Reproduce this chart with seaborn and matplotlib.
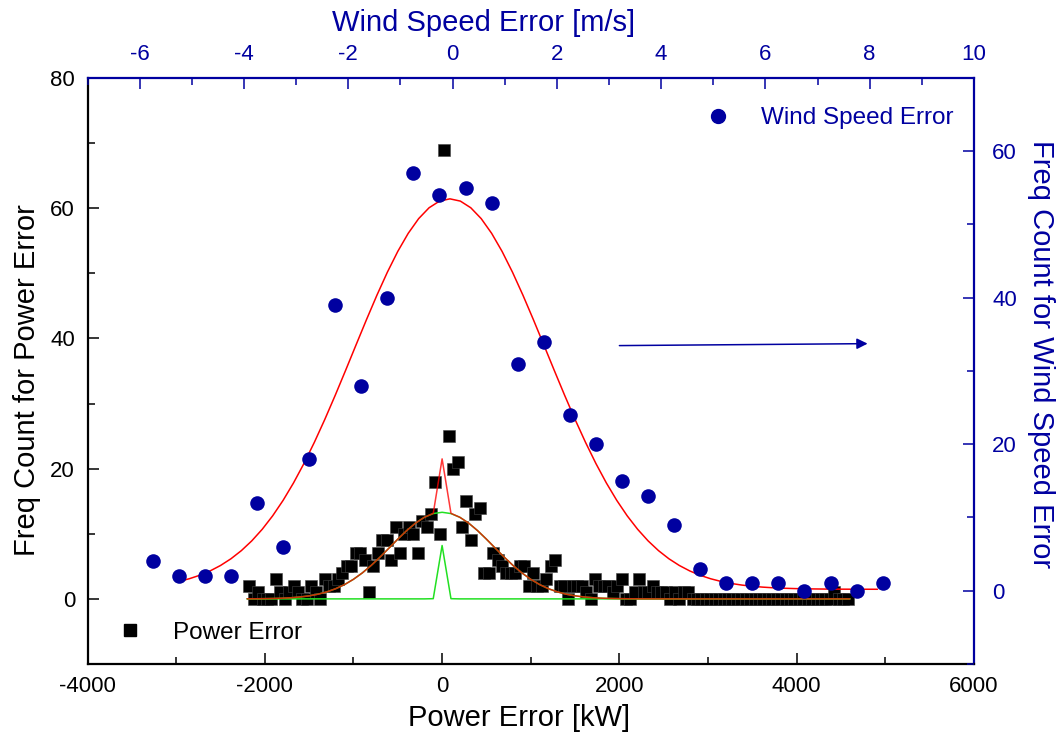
import numpy as np
import pandas as pd
import matplotlib
matplotlib.use("Agg")
import matplotlib.pyplot as plt
from matplotlib.ticker import MultipleLocator
from matplotlib.lines import Line2D
import seaborn as sns

sns.set_style("white")
plt.rcParams['font.family'] = ['Liberation Sans', 'DejaVu Sans']
plt.rcParams['axes.unicode_minus'] = False
plt.rcParams['text.color'] = 'black'
plt.rcParams['axes.labelcolor'] = 'black'

# ---------------- data ----------------
# Power error histogram (bottom x axis [kW], left y axis)
power_bins = [
    -2175, -2125, -2075, -2025, -1975, -1925, -1875, -1825, -1775, -1725,
    -1675, -1625, -1575, -1525, -1475, -1425, -1375, -1325, -1275, -1225,
    -1175, -1125, -1075, -1025, -975, -925, -875, -825, -775, -725,
    -675, -625, -575, -525, -475, -425, -375, -325, -275, -225,
    -175, -125, -75, -25, 25, 75, 125, 175, 225, 275,
    325, 375, 425, 475, 525, 575, 625, 675, 725, 775,
    825, 875, 925, 975, 1025, 1075, 1125, 1175, 1225, 1275,
    1325, 1375, 1425, 1475, 1525, 1575, 1625, 1675, 1725, 1775,
    1825, 1875, 1925, 1975, 2025, 2075, 2125, 2175, 2225, 2275,
    2325, 2375, 2425, 2475, 2525, 2575, 2625, 2675, 2725, 2775,
    2825, 2875, 2925, 2975, 3025, 3075, 3125, 3175, 3225, 3275,
    3325, 3375, 3425, 3475, 3525, 3575, 3625, 3675, 3725, 3775,
    3825, 3875, 3925, 3975, 4025, 4075, 4125, 4175, 4225, 4275,
    4325, 4375, 4425, 4475, 4525, 4575,
]
power_counts = [
    2, 0, 1, 0, 0, 0, 3, 1, 0, 1,
    2, 1, 0, 0, 2, 1, 0, 3, 2, 2,
    3, 4, 5, 5, 7, 7, 6, 1, 5, 7,
    9, 9, 6, 11, 7, 10, 11, 10, 7, 12,
    11, 13, 18, 10, 69, 25, 20, 21, 11, 15,
    9, 13, 14, 4, 4, 7, 6, 5, 4, 4,
    4, 5, 5, 2, 4, 2, 2, 3, 5, 6,
    2, 2, 0, 2, 2, 2, 1, 0, 3, 2,
    2, 2, 1, 2, 3, 0, 0, 1, 3, 1,
    1, 2, 1, 1, 1, 0, 1, 0, 1, 1,
    0, 0, 0, 0, 0, 0, 0, 0, 0, 0,
    0, 0, 0, 0, 0, 0, 0, 0, 0, 0,
    0, 0, 0, 0, 0, 0, 0, 0, 0, 0,
    0, 0, 1, 0, 0, 0,
]

# Wind speed error histogram (top x axis [m/s], right y axis)
wind_bins = [-5.75, -5.25, -4.75, -4.25, -3.75, -3.25, -2.75, -2.25, -1.75, -1.25,
             -0.75, -0.25, 0.25, 0.75, 1.25, 1.75, 2.25, 2.75, 3.25, 3.75,
             4.25, 4.75, 5.25, 5.75, 6.25, 6.75, 7.25, 7.75, 8.25]
wind_counts = [4, 2, 2, 2, 12, 6, 18, 39, 28, 40,
               57, 54, 55, 53, 31, 34, 24, 20, 15, 13,
               9, 3, 1, 1, 1, 0, 1, 0, 1]

# Gaussian fit parameters
wind_fit = dict(y0=0.2, A=53.3, xc=-0.05, w=1.86, x_from=-5.25, x_to=8.25)
power_broad = dict(A=13.3, xc=0.0, w=580.0)
power_narrow = dict(A=8.2, xc=0.0, w=30.0)
power_fit_range = (-2200, 4600, 100)

NAVY = "#0000A0"
GREEN = "#22E022"


def gauss(x, A, xc, w, y0=0.0):
    return y0 + A * np.exp(-((x - xc) ** 2) / (2 * w ** 2))


# ---------------- figure ----------------
fig = plt.figure(figsize=(10.56, 7.35), dpi=100)
rect = [0.0829, 0.0966, 0.8394, 0.7973]
ax = fig.add_axes(rect)
ax2 = fig.add_axes(rect, frameon=False)

df_p = pd.DataFrame({"x": power_bins, "y": power_counts})
df_w = pd.DataFrame({"x": wind_bins, "y": wind_counts})

# power fit curves
xf = np.arange(power_fit_range[0], power_fit_range[1] + 1, power_fit_range[2])
broad = gauss(xf, power_broad["A"], power_broad["xc"], power_broad["w"])
narrow = gauss(xf, power_narrow["A"], power_narrow["xc"], power_narrow["w"])
fit_df = pd.DataFrame({"x": xf, "broad": broad, "narrow": narrow, "cum": broad + narrow})

sns.scatterplot(data=df_p, x="x", y="y", ax=ax, marker="s", s=80, color="black",
                edgecolor="#444444", linewidth=0.4, zorder=2, legend=False)
sns.lineplot(data=fit_df, x="x", y="narrow", ax=ax, color=GREEN, lw=1.1, zorder=3)
sns.lineplot(data=fit_df, x="x", y="broad", ax=ax, color=GREEN, lw=1.1, zorder=3)
sns.lineplot(data=fit_df, x="x", y="cum", ax=ax, color="red", lw=1.1, alpha=0.78, zorder=4)

# wind
xw = np.arange(wind_fit["x_from"], wind_fit["x_to"] + 1e-9, 0.2)
wfit_df = pd.DataFrame({"x": xw, "y": gauss(xw, wind_fit["A"], wind_fit["xc"], wind_fit["w"], wind_fit["y0"])})
sns.lineplot(data=wfit_df, x="x", y="y", ax=ax2, color="red", lw=1.1, zorder=3)
sns.scatterplot(data=df_w, x="x", y="y", ax=ax2, marker="o", s=110, color=NAVY,
                edgecolor=NAVY, linewidth=0, zorder=4, legend=False)

# limits
ax.set_xlim(-4000, 6000)
ax.set_ylim(-10, 80)
ax2.set_xlim(-7, 10)
ax2.set_ylim(-10, 70)

# ticks
ax.xaxis.set_major_locator(MultipleLocator(2000))
ax.xaxis.set_minor_locator(MultipleLocator(1000))
ax.yaxis.set_major_locator(MultipleLocator(20))
ax.yaxis.set_minor_locator(MultipleLocator(10))
ax2.xaxis.set_major_locator(MultipleLocator(2))
ax2.xaxis.set_minor_locator(MultipleLocator(1))
ax2.yaxis.set_major_locator(MultipleLocator(20))
ax2.yaxis.set_minor_locator(MultipleLocator(10))

ax.tick_params(which="both", direction="in", top=False, right=False,
               bottom=True, left=True, color="black", labelcolor="black", width=1.1)
ax.tick_params(which="major", length=8, labelsize=16, pad=9)
ax.tick_params(which="minor", length=5)

ax2.xaxis.tick_top()
ax2.yaxis.tick_right()
ax2.tick_params(which="both", direction="in", top=True, right=True, bottom=False, left=False,
                labeltop=True, labelright=True, labelbottom=False, labelleft=False,
                color=NAVY, labelcolor=NAVY, width=1.1)
ax2.tick_params(which="major", length=8, labelsize=16, pad=9)
ax2.tick_params(axis="y", which="major", pad=13)
ax2.tick_params(which="minor", length=5)

for side in ["left", "bottom"]:
    ax.spines[side].set_color("black")
    ax.spines[side].set_linewidth(1.6)
for side in ["top", "right"]:
    ax.spines[side].set_color(NAVY)
    ax.spines[side].set_linewidth(1.6)

# labels
ax.set_xlabel("Power Error [kW]", fontsize=21, color="black")
ax.set_ylabel("Freq Count for Power Error", fontsize=21, color="black")
ax2.set_xlabel("Wind Speed Error [m/s]", fontsize=21, color=NAVY)
ax2.set_ylabel("Freq Count for Wind Speed Error", fontsize=21, color=NAVY, rotation=270)
ax2.xaxis.set_label_position("top")
ax2.yaxis.set_label_position("right")

ax.xaxis.label.set_va("center")
ax.xaxis.set_label_coords(0.487, -0.092)
ax.yaxis.label.set_va("center")
ax.yaxis.set_label_coords(-0.068, 0.485)
ax2.xaxis.label.set_va("center")
ax2.xaxis.set_label_coords(0.447, 1.094)
ax2.yaxis.label.set_va("center")
ax2.yaxis.set_label_coords(1.0756, 0.529)

# arrow pointing to right axis
ax.annotate("", xy=(4800, 39.2), xytext=(2000, 38.9),
            arrowprops=dict(arrowstyle="-|>", color=NAVY, lw=1.1, mutation_scale=16,
                            shrinkA=0, shrinkB=0))

# legends
h_p = Line2D([], [], marker="s", ls="none", color="black", markersize=9)
h_w = Line2D([], [], marker="o", ls="none", color=NAVY, markersize=10)
leg1 = ax.legend([h_p], ["Power Error"], loc="center left", bbox_to_anchor=(0.034, 0.053),
                 frameon=False, fontsize=17.5, handlelength=1.0, handletextpad=1.27,
                 borderpad=0, borderaxespad=0)
for t in leg1.get_texts():
    t.set_color("black")
leg2 = ax2.legend([h_w], ["Wind Speed Error"], loc="center left", bbox_to_anchor=(0.6977, 0.9317),
                  frameon=False, fontsize=17.5, handlelength=1.0, handletextpad=1.27,
                  borderpad=0, borderaxespad=0)
for t in leg2.get_texts():
    t.set_color(NAVY)

ax.grid(False)
ax2.grid(False)

fig.savefig("out.png", dpi=100)
